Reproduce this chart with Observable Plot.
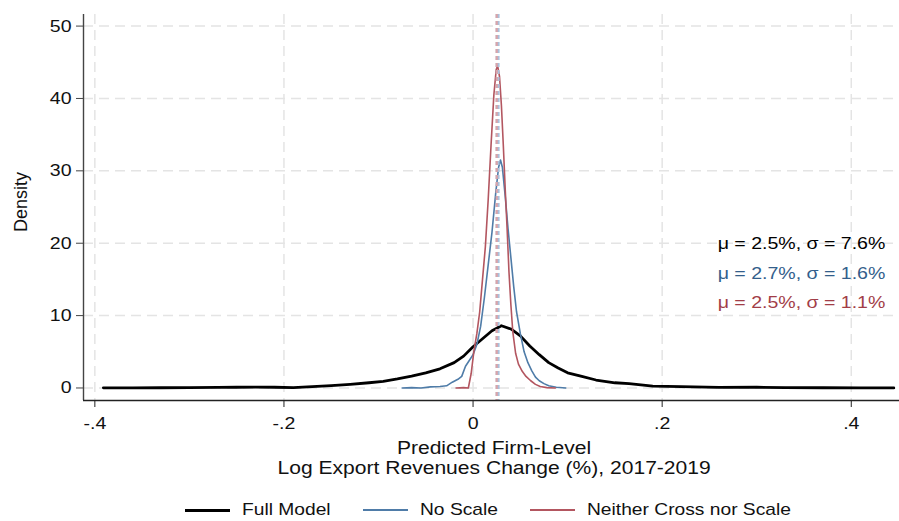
<!DOCTYPE html>
<html>
<head>
<meta charset="utf-8">
<script src="https://cdn.jsdelivr.net/npm/d3@7"></script>
<script src="https://cdn.jsdelivr.net/npm/@observablehq/plot@0.6"></script>
<style>
  html, body { margin: 0; padding: 0; background: #fff; }
  body { width: 899px; height: 521px; overflow: hidden; font-family: "Liberation Sans", Arial, Helvetica, sans-serif; color: #111; }
  #chart svg { display: block; }
  .wide { display: inline-block; white-space: nowrap; }
  .xlabel { padding-left: 90px; padding-top: 6px; text-align: center; font-size: 18px; line-height: 20px; }
  .xlabel .wide { transform: scaleX(1.17); transform-origin: center; }
  .legend { padding-left: 77px; margin-top: 21px; display: flex; justify-content: center; align-items: center; font-size: 17px; line-height: 22px; }
  .legend .item { display: flex; align-items: center; }
  .legend .swatch { width: 45px; margin-right: 12px; }
  .legend .wide { transform: scaleX(1.13); transform-origin: left center; }
</style>
</head>
<body>
<div id="chart"></div>
<div class="xlabel"><span class="wide">Predicted Firm-Level</span><br><span class="wide">Log Export Revenues Change (%), 2017-2019</span></div>
<div class="legend" id="legend"></div>
<script>
// Kernel density estimates of predicted firm-level log export revenue change
const seriesNames = ["Full Model", "No Scale", "Neither Cross nor Scale"];
const seriesMeans = [2.5, 2.7, 2.5];   // percent
const seriesSDs = [7.6, 1.6, 1.1];     // percent

const fullX = [-0.391, -0.36, -0.33, -0.30, -0.27, -0.25, -0.23, -0.21, -0.19, -0.17, -0.15, -0.13, -0.11, -0.095, -0.08, -0.065, -0.05, -0.035, -0.02, -0.01, 0.0, 0.01, 0.02, 0.03, 0.04, 0.05, 0.06, 0.07, 0.08, 0.09, 0.10, 0.115, 0.13, 0.15, 0.165, 0.19, 0.22, 0.26, 0.30, 0.33, 0.37, 0.41, 0.445];
const fullY = [0.02, 0.02, 0.03, 0.06, 0.08, 0.10, 0.13, 0.10, 0.06, 0.18, 0.33, 0.5, 0.72, 0.92, 1.25, 1.65, 2.1, 2.65, 3.5, 4.4, 5.7, 6.8, 7.9, 8.6, 8.15, 7.2, 5.8, 4.6, 3.5, 2.75, 2.1, 1.6, 1.1, 0.72, 0.6, 0.25, 0.2, 0.08, 0.1, 0.06, 0.03, 0.02, 0.01];

const noScaleX = [-0.075, -0.065, -0.055, -0.045, -0.035, -0.028, -0.022, -0.016, -0.012, -0.008, -0.004, 0.0, 0.004, 0.008, 0.012, 0.016, 0.020, 0.024, 0.027, 0.029, 0.031, 0.034, 0.037, 0.040, 0.043, 0.046, 0.050, 0.054, 0.058, 0.062, 0.066, 0.070, 0.075, 0.080, 0.088, 0.098];
const noScaleY = [0.0, 0.05, 0.0, 0.15, 0.2, 0.3, 0.8, 1.2, 1.6, 3.0, 3.8, 4.6, 6.0, 8.5, 12.5, 17.0, 21.5, 27.0, 30.5, 31.5, 30.5, 26.5, 22.0, 18.0, 14.0, 10.5, 7.5, 5.0, 3.5, 2.4, 1.5, 1.0, 0.6, 0.3, 0.1, 0.0];

const neitherX = [-0.018, -0.010, -0.005, -0.002, 0.001, 0.004, 0.007, 0.010, 0.013, 0.016, 0.019, 0.022, 0.0245, 0.026, 0.028, 0.030, 0.032, 0.034, 0.036, 0.038, 0.040, 0.042, 0.045, 0.048, 0.052, 0.056, 0.061, 0.066, 0.071, 0.078, 0.087];
const neitherY = [0.0, 0.05, 0.0, 2.0, 5.2, 7.5, 10.5, 15.0, 19.5, 26.0, 33.5, 40.5, 44.0, 44.5, 43.0, 39.0, 33.5, 27.5, 22.0, 16.0, 11.5, 7.8, 4.8, 3.3, 2.3, 1.6, 1.0, 0.5, 0.2, 0.05, 0.0];

const xTicks = [-0.4, -0.2, 0, 0.2, 0.4];
const xTickLabels = ["-.4", "-.2", "0", ".2", ".4"];
const yTicks = [0, 10, 20, 30, 40, 50];

// Styling
const lineColors = ["#000000", "#4f7ca8", "#b35660"];
const textColors = ["#000000", "#335e8b", "#a23d47"];
const meanColors = ["#9a9aa6", "#a9c1dc", "#dba3aa"];
const lineWidths = [2.8, 1.6, 1.6];
const xDomain = [-0.412, 0.451];
const yDomain = [-1.73, 51.6];
const textStretch = 1.15;

const toRows = (xs, ys) => xs.map((x, i) => ({x, y: ys[i]}));
const curves = [toRows(fullX, fullY), toRows(noScaleX, noScaleY), toRows(neitherX, neitherY)];

const stats = seriesNames.map((name, i) => ({
  name,
  mean: seriesMeans[i] / 100,
  label: `\u03bc = ${seriesMeans[i].toFixed(1)}%, \u03c3 = ${seriesSDs[i].toFixed(1)}%`,
  i
}));

const gridStyle = {stroke: "#e4e4e4", strokeOpacity: 1, strokeWidth: 1.5, strokeDasharray: "10,6"};

const chart = Plot.plot({
  width: 899,
  height: 432,
  marginLeft: 83,
  marginRight: 0,
  marginTop: 14,
  marginBottom: 32,
  style: {fontFamily: '"Liberation Sans", Arial, Helvetica, sans-serif', fontSize: "17px", color: "#111", background: "#fff"},
  x: {domain: xDomain},
  y: {domain: yDomain},
  marks: [
    Plot.gridY(yTicks, gridStyle),
    Plot.gridX(xTicks, gridStyle),
    ...curves.map((rows, i) => Plot.line(rows, {x: "x", y: "y", stroke: lineColors[i], strokeWidth: lineWidths[i], curve: "linear"})),
    ...stats.map((s, i) => Plot.ruleX([s], {x: "mean", stroke: meanColors[i], strokeWidth: 2, strokeDasharray: "4,3"})),
    Plot.text(stats, {
      x: 0.436,
      y: (d) => 19.9 - 4.05 * d.i,
      text: "label",
      fill: (d) => textColors[d.i],
      textAnchor: "end",
      fontSize: 17
    }),
    Plot.ruleX([xDomain[0]], {stroke: "#444", strokeWidth: 1.4}),
    Plot.ruleY([yDomain[0]], {stroke: "#222", strokeWidth: 1.4}),
    Plot.axisY(yTicks, {tickSize: 7, tickPadding: 5, label: null, stroke: "#444"}),
    Plot.axisX(xTicks, {tickSize: 7, tickPadding: 9, label: null, stroke: "#222", tickFormat: (d) => xTickLabels[xTicks.indexOf(d)]}),
    Plot.text(["Density"], {x: xDomain[0], y: 25.7, dx: -62, rotate: -90, fontSize: 18})
  ]
});

// Widen the glyphs horizontally (rotated labels are left as they are)
chart.querySelectorAll("text").forEach((t) => {
  let tr = t.getAttribute("transform") || "";
  if (tr.includes("rotate")) return;
  const x = t.getAttribute("x");
  if (x != null) { tr += ` translate(${x},0)`; t.removeAttribute("x"); }
  t.setAttribute("transform", `${tr} scale(${textStretch},1)`);
});
document.getElementById("chart").append(chart);

// Legend below the plot
const legend = document.getElementById("legend");
seriesNames.forEach((name, i) => {
  const item = document.createElement("div");
  item.className = "item";
  const sw = document.createElement("div");
  sw.className = "swatch";
  sw.style.height = (i === 0 ? 3 : 2) + "px";
  sw.style.background = lineColors[i];
  const label = document.createElement("span");
  label.className = "wide";
  label.textContent = name;
  item.append(sw, label);
  legend.append(item);
});
// Leave room for the widened labels and a gap before the next entry
legend.querySelectorAll(".wide").forEach((el, i, all) => {
  const extra = el.offsetWidth * 0.13;
  el.style.marginRight = (extra + (i < all.length - 1 ? 32 : 0)) + "px";
});
</script>
</body>
</html>
